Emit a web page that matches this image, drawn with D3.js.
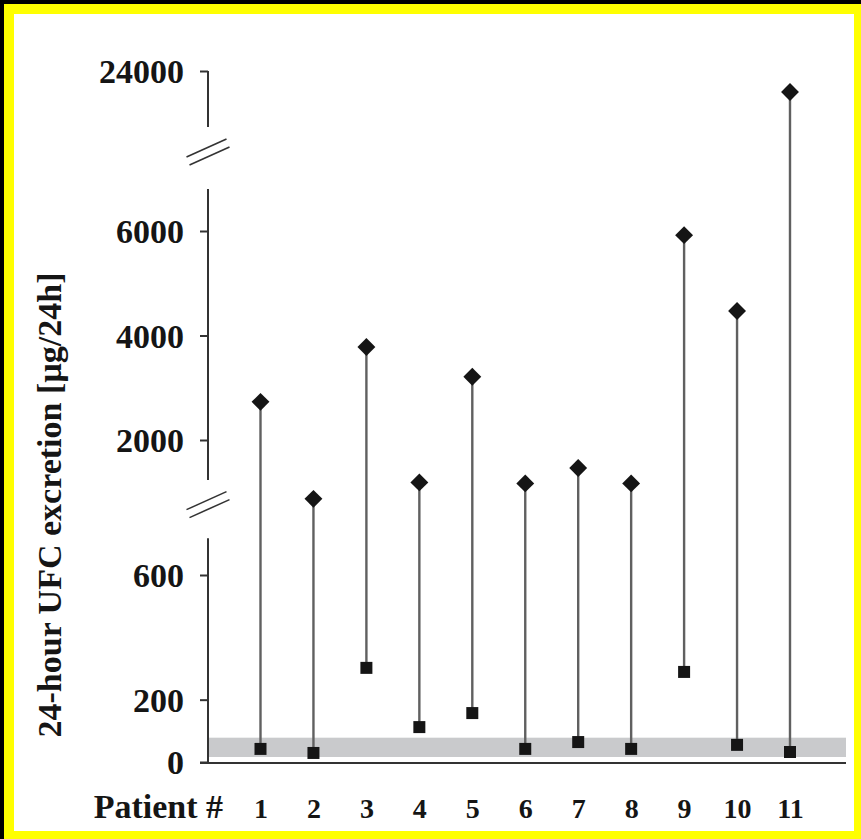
<!doctype html>
<html>
  <head>
    <script src="https://cdn.jsdelivr.net/npm/d3@7/dist/d3.min.js"></script>
    <style>
      body { margin: 0; background: #000; }
      svg { display: block; }
      text { font-family: "Liberation Serif", "Times New Roman", serif; font-weight: bold; fill: #151515; }
      .axis line { stroke: #333; stroke-width: 2; }
      .axis path.domain { display: none; }
      line.segment { stroke: #333; stroke-width: 2; }
      line.brk { stroke: #333; stroke-width: 1.6; }
      line.stem { stroke: #606060; stroke-width: 2.4; }
      path.high, path.low { fill: #151515; }
      rect.normal { fill: #c9cacc; }
    </style>
  </head>
  <body>
    <svg width="861" height="839"></svg>
    <script>
      // values
      var patients = [1, 2, 3, 4, 5, 6, 7, 8, 9, 10, 11];
      var highUFC = [2730, 1390, 3780, 1560, 3210, 1550, 1710, 1550, 5920, 4470, 21640];
      var lowUFC = [42, 29, 302, 112, 157, 42, 64, 42, 289, 55, 32];
      var yTicks = [0, 200, 600, 2000, 4000, 6000, 24000];
      var normalRange = [16, 78];
      // broken axis: visible pieces and where the // marks sit
      var axisSegments = [[0, 980], [1585, 10725], [17700, 24000]];
      var axisBreaks = [1330, 14890];

      var svg = d3.select("svg");

      // frame
      svg.append("rect").attr("x", 0).attr("y", 0).attr("width", 861).attr("height", 839).attr("fill", "#000");
      svg.append("rect").attr("x", 4).attr("y", 4).attr("width", 857).attr("height", 835).attr("fill", "#ffff00");
      svg.append("rect").attr("x", 14).attr("y", 14).attr("width", 840).attr("height", 817).attr("fill", "#fff");

      var axisX = 208, baseY = 763, rightEnd = 846;

      var x = d3.scaleLinear().domain([1, 11]).range([260.5, 790]);
      // piecewise linear scale, one piece per axis section
      var y = d3.scaleLinear()
        .domain([0, 600, 2000, 6000, 24000])
        .range([762, 575, 440, 231, 71]);

      var data = patients.map((p, i) => ({ p: p, hi: highUFC[i], lo: lowUFC[i] }));

      // normal range band
      svg.append("rect")
        .attr("class", "normal")
        .attr("x", axisX)
        .attr("y", y(normalRange[1]))
        .attr("width", rightEnd - axisX)
        .attr("height", y(normalRange[0]) - y(normalRange[1]));

      // y axis
      var yAxis = d3.axisLeft(y)
        .tickValues(yTicks)
        .tickFormat(d3.format("d"))
        .tickSize(8)
        .tickSizeOuter(0)
        .tickPadding(16);

      var gy = svg.append("g")
        .attr("class", "axis")
        .attr("transform", "translate(" + axisX + ",0)")
        .call(yAxis);
      gy.selectAll("text")
        .attr("font-size", 34)
        .attr("dy", "0.34em");

      svg.selectAll("line.segment").data(axisSegments)
        .enter()
        .append("line")
          .attr("class", "segment")
          .attr("x1", axisX).attr("x2", axisX)
          .attr("y1", d => y(d[0]))
          .attr("y2", d => y(d[1]));

      // double slash break marks
      axisBreaks.forEach(v => {
        var cy = y(v);
        [[-1.5, -4], [1.5, 4]].forEach(o => {
          svg.append("line")
            .attr("class", "brk")
            .attr("x1", axisX + o[0] - 20).attr("y1", cy + o[1] + 9)
            .attr("x2", axisX + o[0] + 20).attr("y2", cy + o[1] - 9);
        });
      });

      // x axis
      var xAxis = d3.axisBottom(x)
        .tickValues(patients)
        .tickSize(0)
        .tickPadding(35);

      var gx = svg.append("g")
        .attr("class", "axis")
        .attr("transform", "translate(0," + baseY + ")")
        .call(xAxis);
      gx.selectAll("text").attr("font-size", 28);

      svg.append("line")
        .attr("class", "segment")
        .attr("x1", 200).attr("x2", rightEnd)
        .attr("y1", baseY).attr("y2", baseY);

      svg.append("text")
        .attr("x", 223)
        .attr("y", 818)
        .attr("text-anchor", "end")
        .attr("font-size", 34)
        .text("Patient #");

      svg.append("text")
        .attr("transform", "translate(61," + 505 + ") rotate(-90)")
        .attr("text-anchor", "middle")
        .attr("font-size", 34)
        .text("24-hour UFC excretion [µg/24h]");

      // stems
      svg.selectAll("line.stem").data(data)
        .enter()
        .append("line")
          .attr("class", "stem")
          .attr("x1", d => x(d.p)).attr("x2", d => x(d.p))
          .attr("y1", d => y(d.lo))
          .attr("y2", d => y(d.hi));

      var square = d3.symbol().type(d3.symbolSquare).size(144);
      var diamond = d3.symbol().type(d3.symbolSquare).size(160);

      svg.selectAll("path.low").data(data)
        .enter()
        .append("path")
          .attr("class", "low")
          .attr("d", square)
          .attr("transform", d => "translate(" + x(d.p) + "," + y(d.lo) + ")");

      svg.selectAll("path.high").data(data)
        .enter()
        .append("path")
          .attr("class", "high")
          .attr("d", diamond)
          .attr("transform", d => "translate(" + x(d.p) + "," + y(d.hi) + ") rotate(45)");
    </script>
  </body>
</html>
